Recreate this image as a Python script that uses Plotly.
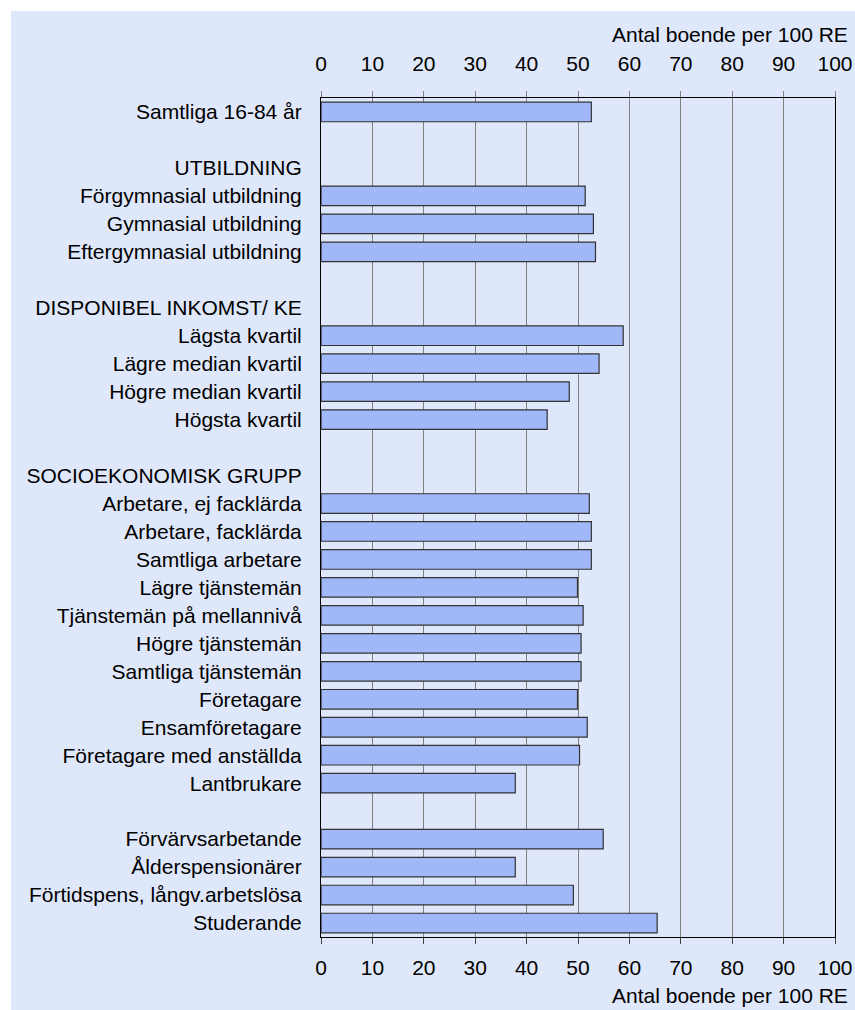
import plotly.graph_objects as go

# rows top to bottom; blank rows are spacers, headers have no bar
categories = [
    "Samtliga 16-84 år", " ",
    "UTBILDNING", "Förgymnasial utbildning", "Gymnasial utbildning", "Eftergymnasial utbildning", "  ",
    "DISPONIBEL INKOMST/ KE", "Lägsta kvartil", "Lägre median kvartil", "Högre median kvartil", "Högsta kvartil", "   ",
    "SOCIOEKONOMISK GRUPP", "Arbetare, ej facklärda", "Arbetare, facklärda", "Samtliga arbetare",
    "Lägre tjänstemän", "Tjänstemän på mellannivå", "Högre tjänstemän", "Samtliga tjänstemän",
    "Företagare", "Ensamföretagare", "Företagare med anställda", "Lantbrukare", "    ",
    "Förvärvsarbetande", "Ålderspensionärer", "Förtidspens, långv.arbetslösa", "Studerande",
]
values = [
    52.6, None,
    None, 51.4, 53.0, 53.4, None,
    None, 58.8, 54.1, 48.3, 44.0, None,
    None, 52.2, 52.6, 52.6,
    49.9, 51.0, 50.6, 50.6,
    49.9, 51.8, 50.3, 37.8, None,
    54.9, 37.8, 49.1, 65.4,
]
xticks = [0, 10, 20, 30, 40, 50, 60, 70, 80, 90, 100]
axis_title = "Antal boende per 100 RE"

W, H = 855, 1010
L, R, T, B = 321, 20, 98, 73
pw, ph = W - L - R, H - T - B

def px_x(px):
    return (px - L) / pw

def px_y(py):
    return (H - B - py) / ph

font = dict(family="Liberation Sans, Arial, sans-serif", size=21, color="#000000")

fig = go.Figure()
fig.add_trace(go.Bar(
    x=values, y=categories, orientation="h",
    marker=dict(color="#A0B8F7", line=dict(color="#333333", width=1.2)),
    width=0.7, hoverinfo="x+y",
))
# invisible trace so the top axis is drawn
fig.add_trace(go.Scatter(
    x=values, y=categories, xaxis="x2", mode="markers",
    marker=dict(opacity=0), showlegend=False, hoverinfo="skip",
))

fig.update_layout(
    width=W, height=H, autosize=False,
    margin=dict(l=L, r=R, t=T, b=B),
    paper_bgcolor="white", plot_bgcolor="white",
    showlegend=False, font=font,
    xaxis=dict(
        range=[0, 100], tickvals=xticks, showgrid=True, gridcolor="#808080", gridwidth=1,
        zeroline=False, showline=True, linecolor="#000000", linewidth=1, mirror=True,
        ticks="outside", ticklen=6, tickcolor="#404040", ticklabelstandoff=6,
        tickfont=font, automargin=False,
    ),
    xaxis2=dict(
        range=[0, 100], tickvals=xticks, overlaying="x", side="top", anchor="y",
        showgrid=False, zeroline=False, showline=False,
        ticks="outside", ticklen=6, tickcolor="#808080", ticklabelstandoff=12,
        tickfont=font, automargin=False,
    ),
    yaxis=dict(
        categoryorder="array", categoryarray=categories,
        range=[len(categories) - 0.5, -0.5],
        showgrid=False, zeroline=False, showline=True, linecolor="#000000", linewidth=1,
        mirror=True, ticks="", ticklabelstandoff=14, tickfont=font, automargin=False,
    ),
    shapes=[dict(
        type="rect", xref="paper", yref="paper", layer="below",
        x0=px_x(11), x1=px_x(W + 5), y0=px_y(H + 5), y1=px_y(11),
        fillcolor="#DFE7FA", line=dict(width=0),
    )],
    annotations=[
        dict(text=axis_title, xref="paper", yref="paper", x=px_x(850), y=px_y(35),
             xanchor="right", yanchor="middle", showarrow=False, font=font),
        dict(text=axis_title, xref="paper", yref="paper", x=px_x(850), y=px_y(995),
             xanchor="right", yanchor="middle", showarrow=False, font=font),
    ],
)

fig.write_html("out.html", config={"displayModeBar": False},
               post_script="document.body.style.margin='0';")
